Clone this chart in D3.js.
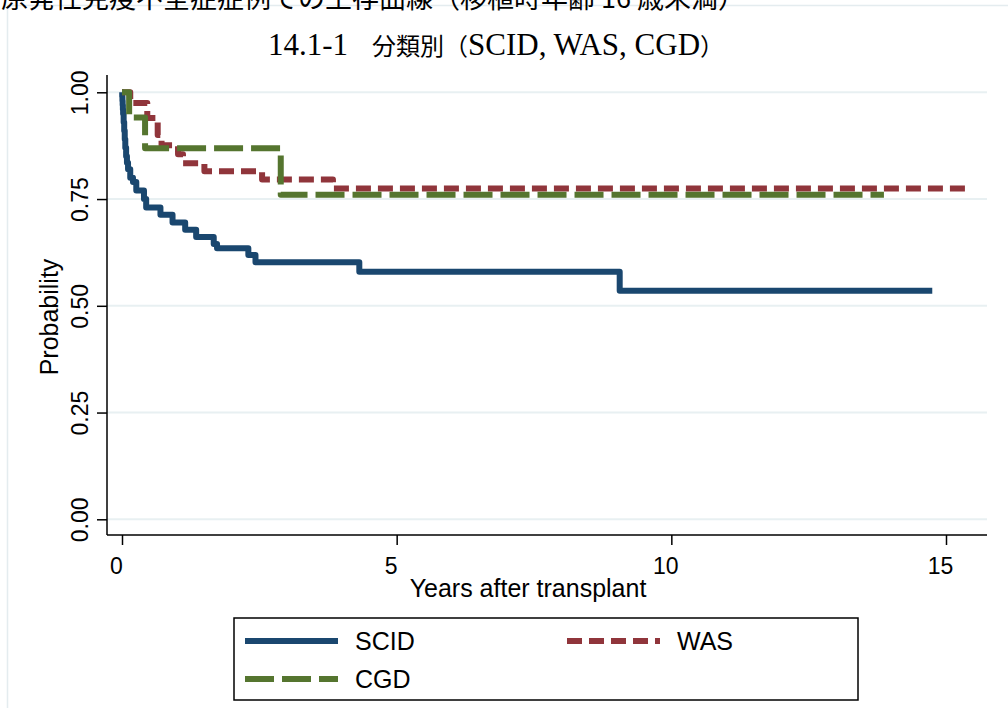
<!DOCTYPE html>
<html><head><meta charset="utf-8">
<script src="https://cdn.jsdelivr.net/npm/d3@7"></script>
<style>
html,body{margin:0;padding:0;background:#fff;}
svg{display:block;}
</style></head>
<body>
<svg id="chart" width="1008" height="708"></svg>
<script>
// ---- data ----
const pageTitle = "原発性免疫不全症症例での生存曲線（移植時年齢 16 歳未満）";
const chartTitleParts = ["14.1-1", "　分類別（", "SCID, WAS, CGD", "）"];
const xTicks = [0, 5, 10, 15];
const xTickLabels = ["0", "5", "10", "15"];
const yTicks = [0, 0.25, 0.5, 0.75, 1];
const yTickLabels = ["0.00", "0.25", "0.50", "0.75", "1.00"];
const xTitle = "Years after transplant";
const yTitle = "Probability";
const seriesNames = ["SCID", "WAS", "CGD"];
const seriesColors = ["#1a476f", "#90353b", "#55752f"];

const scidTime = [0, 0.004, 0.008, 0.012, 0.016, 0.02, 0.03, 0.04, 0.05, 0.06, 0.075, 0.09, 0.11, 0.15, 0.20, 0.26, 0.40, 0.44, 0.70, 0.92, 1.15, 1.35, 1.67, 1.73, 2.30, 2.43, 4.32, 9.06, 14.75];
const scidSurv = [1, 0.99, 0.98, 0.97, 0.96, 0.95, 0.93, 0.91, 0.89, 0.87, 0.85, 0.835, 0.82, 0.80, 0.79, 0.77, 0.75, 0.73, 0.713, 0.695, 0.678, 0.661, 0.645, 0.635, 0.619, 0.602, 0.580, 0.535, 0.535];

const wasTime = [0, 0.15, 0.46, 0.65, 0.72, 1.02, 1.11, 1.50, 2.55, 3.84, 15.45];
const wasSurv = [1, 0.975, 0.94, 0.90, 0.876, 0.855, 0.834, 0.815, 0.796, 0.775, 0.775];

const cgdTime = [0, 0.13, 0.42, 2.89, 13.87];
const cgdSurv = [1, 0.941, 0.869, 0.760, 0.760];

// ---- layout ----
const svg = d3.select("#chart");
const x = d3.scaleLinear().domain([0, 15]).range([122, 946]);
const y = d3.scaleLinear().domain([0, 1]).range([519.3, 92.3]);
const axisX = 107, axisY = 535, plotRight = 987, plotTop = 75;
const sansFont = "'Liberation Sans', Arial, Helvetica, sans-serif";
const cjkFont = "'Noto Sans CJK JP', sans-serif";
const serifFont = "'Liberation Serif', 'Times New Roman', serif";

// page frame lines
svg.append("line").attr("x1", 7.5).attr("x2", 7.5).attr("y1", 5.5).attr("y2", 708)
  .attr("stroke", "#e4ecef").attr("stroke-width", 1.5);
svg.append("line").attr("x1", 7.5).attr("x2", 1008).attr("y1", 5.5).attr("y2", 5.5)
  .attr("stroke", "#e4ecef").attr("stroke-width", 1.5);

// page title (cut at top edge, as in the reference)
svg.append("text").attr("x", 745).attr("y", 8).attr("text-anchor", "end")
  .attr("font-family", cjkFont).attr("font-size", 27)
  .attr("fill", "#000").text(pageTitle);

// chart title
const tt = svg.append("text").attr("x", 496).attr("y", 55).attr("text-anchor", "middle")
  .attr("fill", "#000");
chartTitleParts.forEach((s, i) => {
  const latin = (i % 2 === 0);
  tt.append("tspan").text(s)
    .attr("font-family", latin ? serifFont : cjkFont)
    .attr("font-size", latin ? 31 : 24);
});

// gridlines
svg.append("g").selectAll("line").data(yTicks).join("line")
  .attr("x1", axisX).attr("x2", plotRight)
  .attr("y1", d => y(d)).attr("y2", d => y(d))
  .attr("stroke", "#e8f0f2").attr("stroke-width", 2);

// y axis
const gy = svg.append("g").attr("transform", `translate(${axisX},0)`)
  .call(d3.axisLeft(y).tickValues(yTicks).tickSize(10).tickSizeOuter(0)
        .tickFormat((d, i) => yTickLabels[i]));
gy.select(".domain").remove();
gy.selectAll(".tick line").attr("stroke", "#000").attr("stroke-width", 1.5);
gy.selectAll(".tick text")
  .attr("transform", "rotate(-90)").attr("x", 0).attr("y", -19).attr("dy", 0)
  .attr("text-anchor", "middle").attr("font-family", sansFont).attr("font-size", 23).attr("fill", "#000");
svg.append("line").attr("x1", axisX).attr("x2", axisX).attr("y1", plotTop).attr("y2", axisY)
  .attr("stroke", "#000").attr("stroke-width", 1.5);

// x axis
const gx = svg.append("g").attr("transform", `translate(0,${axisY})`)
  .call(d3.axisBottom(x).tickValues(xTicks).tickSize(10).tickSizeOuter(0)
        .tickFormat((d, i) => xTickLabels[i]));
gx.select(".domain").remove();
gx.selectAll(".tick line").attr("stroke", "#000").attr("stroke-width", 1.5);
gx.selectAll(".tick text").attr("y", 39).attr("dy", 0).attr("x", -6)
  .attr("font-family", sansFont).attr("font-size", 23).attr("fill", "#000");
svg.append("line").attr("x1", axisX).attr("x2", plotRight).attr("y1", axisY).attr("y2", axisY)
  .attr("stroke", "#000").attr("stroke-width", 1.5);

// axis titles
svg.append("text").attr("x", 528).attr("y", 597).attr("text-anchor", "middle")
  .attr("font-family", sansFont).attr("font-size", 25).attr("fill", "#000").text(xTitle);
svg.append("text").attr("transform", "translate(58,317) rotate(-90)").attr("text-anchor", "middle")
  .attr("font-family", sansFont).attr("font-size", 25).attr("fill", "#000").text(yTitle);

// curves
const dashes = [null, "15 7", "29 8"];
const series = [
  {t: scidTime, s: scidSurv},
  {t: wasTime, s: wasSurv},
  {t: cgdTime, s: cgdSurv}
];
const line = d3.line().x(d => x(d[0])).y(d => y(d[1])).curve(d3.curveStepAfter);
series.forEach((ser, i) => {
  const pts = ser.t.map((t, k) => [t, ser.s[k]]);
  const p = svg.append("path").attr("d", line(pts)).attr("fill", "none")
    .attr("stroke", seriesColors[i]).attr("stroke-width", 6)
    .attr("stroke-linejoin", "round");
  if (dashes[i]) p.attr("stroke-dasharray", dashes[i]).attr("stroke-linecap", "butt");
});

// legend
svg.append("rect").attr("x", 234).attr("y", 618).attr("width", 624).attr("height", 82)
  .attr("fill", "#fff").attr("stroke", "#000").attr("stroke-width", 1.5);
const legendPos = [[245, 641], [567, 641], [245, 679]];
seriesNames.forEach((name, i) => {
  const [lx, ly] = legendPos[i];
  const l = svg.append("line").attr("x1", lx).attr("x2", lx + 93).attr("y1", ly).attr("y2", ly)
    .attr("stroke", seriesColors[i]).attr("stroke-width", 6);
  if (dashes[i]) l.attr("stroke-dasharray", dashes[i]);
  svg.append("text").attr("x", lx + 110).attr("y", ly + 9)
    .attr("font-family", sansFont).attr("font-size", 25).attr("fill", "#000").text(name);
});
</script>
</body></html>
